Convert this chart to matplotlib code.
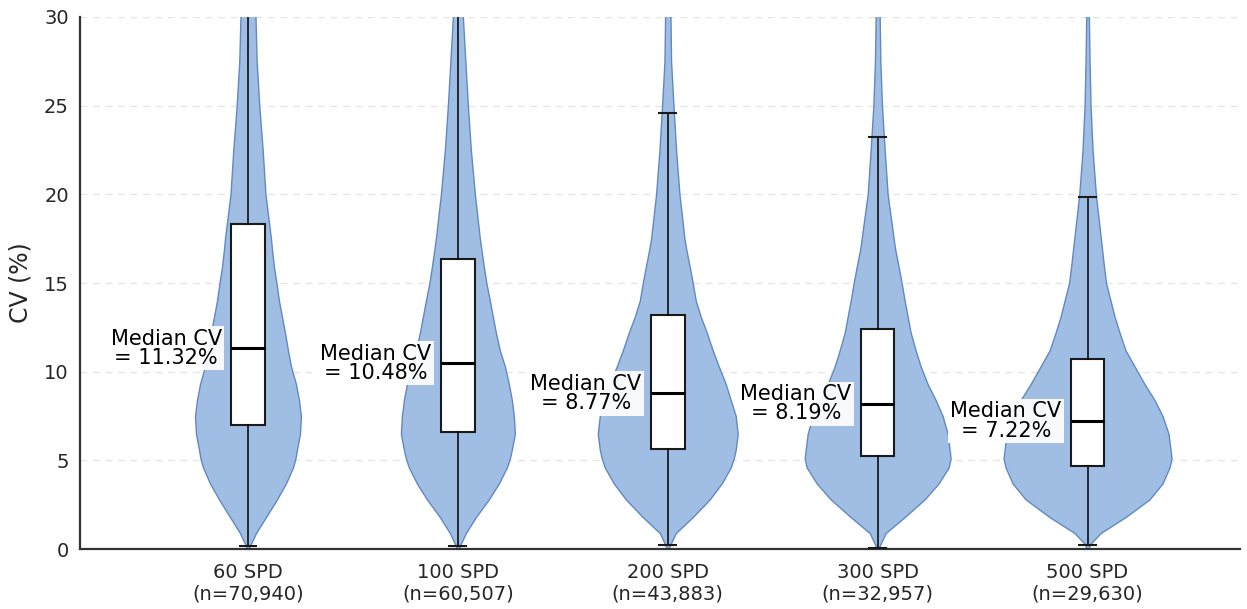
import matplotlib
matplotlib.use("Agg")
import matplotlib.pyplot as plt
import numpy as np

# ---------------- data ----------------
categories = ["60 SPD", "100 SPD", "200 SPD", "300 SPD", "500 SPD"]
counts = ["70,940", "60,507", "43,883", "32,957", "29,630"]

medians = [11.32, 10.48, 8.77, 8.19, 7.22]
q1 = [7.02, 6.60, 5.66, 5.22, 4.69]
q3 = [18.35, 16.35, 13.22, 12.41, 10.74]
whisker_low = [0.15, 0.15, 0.22, 0.07, 0.22]
whisker_high = [35.5, 31.1, 24.57, 23.23, 19.86]

# relative density profile at these CV values
density_coords = [0, 0.3, 0.9, 1.8, 2.8, 3.7, 4.6, 5.1, 5.6, 6.5, 7.5, 8.4, 9.3,
                  10.3, 11.2, 12.2, 13.1, 14.0, 15.0, 15.9, 16.9, 17.5, 20.0,
                  22.5, 25.0, 27.5, 30.0, 32.0]
density_60 = [0.5, 3, 8, 18, 29, 38, 45, 47.5, 49, 52, 53, 51, 48, 43, 40, 37, 34,
              31, 28.5, 26, 24, 23, 17.5, 14.7, 11.3, 8.7, 7.5, 7]
density_100 = [0.5, 3, 8, 18, 31, 41, 49, 52, 54, 57, 56, 54, 51, 47, 42, 38, 35,
               32, 28.5, 26, 23.5, 22, 17, 13, 10, 7.5, 5, 4.5]
density_200 = [0.5, 3, 8, 25, 42, 54, 63, 66, 68, 70, 68, 63, 58, 51, 45, 39, 33,
               28, 25, 22, 18.5, 16.7, 11.7, 8.3, 5.7, 3.3, 2.7, 2.5]
density_300 = [0.5, 3, 8, 27, 47, 61, 71, 73, 72, 70, 65, 58, 50, 43, 38, 33, 30,
               27, 24, 21, 17.5, 16, 10, 7, 4.3, 2.7, 2, 1.5]
density_500 = [0.5, 3, 13, 38, 62, 75, 82, 84, 83, 81, 75, 67, 57, 47, 38, 32, 27,
               23, 18.5, 16.5, 14.5, 13.3, 8.3, 5, 3, 2, 1.3, 1]
densities = [density_60, density_100, density_200, density_300, density_500]

ytick_values = [0, 5, 10, 15, 20, 25, 30]

# ---------------- style ----------------
plt.rcParams["font.family"] = ["DejaVu Sans"]
fig = plt.figure(figsize=(12.47, 6.09), dpi=100)
ax = fig.add_axes([0.0642, 0.0985, 0.9298, 0.8736])

positions = np.arange(len(categories))
density_to_width = 2.0 / 210.0  # full violin width per density unit

vpstats = []
for d, med in zip(densities, medians):
    vpstats.append({
        "coords": np.array(density_coords, dtype=float),
        "vals": np.array(d, dtype=float),
        "mean": med, "median": med,
        "min": density_coords[0], "max": density_coords[-1],
    })
widths = [max(d) * density_to_width for d in densities]

parts = ax.violin(vpstats, positions=positions, widths=widths,
                  showmeans=False, showextrema=False, showmedians=False)
for body in parts["bodies"]:
    body.set_facecolor("#a0bee3")
    body.set_edgecolor("#6189c1")
    body.set_linewidth(1.0)
    body.set_alpha(1.0)
    body.set_zorder(2)

box_stats = []
for m, a, b, lo, hi in zip(medians, q1, q3, whisker_low, whisker_high):
    box_stats.append({"med": m, "q1": a, "q3": b, "whislo": lo,
                      "whishi": hi, "fliers": []})

ax.bxp(box_stats, positions=positions, widths=0.16, capwidths=0.08,
       patch_artist=True, showfliers=False, manage_ticks=False,
       boxprops=dict(facecolor="white", edgecolor="#1a1a1a", linewidth=1.5),
       medianprops=dict(color="black", linewidth=2.2),
       whiskerprops=dict(color="black", linewidth=1.1),
       capprops=dict(color="#1a1a1a", linewidth=1.5),
       zorder=3)

for pos, med in zip(positions, medians):
    ax.text(pos - 0.39, med, f"Median CV\n= {med:.2f}%", ha="center", va="center",
            fontsize=15, color="black", linespacing=0.95, zorder=4,
            bbox=dict(boxstyle="square,pad=0.12", facecolor="white",
                      edgecolor="none", alpha=0.92))

ax.set_xlim(-0.8, 4.724)
ax.set_ylim(0, 30)
ax.set_yticks(ytick_values)
ax.set_xticks(positions)
ax.set_xticklabels([f"{c}\n(n={n})" for c, n in zip(categories, counts)])
ax.tick_params(axis="x", length=0, labelsize=14, labelcolor="#262626", pad=10)
ax.tick_params(axis="y", length=0, labelsize=14, labelcolor="#262626", pad=8)
ax.set_ylabel("CV (%)", fontsize=17, color="#262626", labelpad=8)

ax.yaxis.grid(True, linestyle=(0, (5, 4)), color="#e6e6e6", linewidth=1.0, zorder=0)
ax.set_axisbelow(True)
for s in ["top", "right"]:
    ax.spines[s].set_visible(False)
for s in ["left", "bottom"]:
    ax.spines[s].set_color("#333333")
    ax.spines[s].set_linewidth(1.6)

fig.savefig("out.png", dpi=100)
